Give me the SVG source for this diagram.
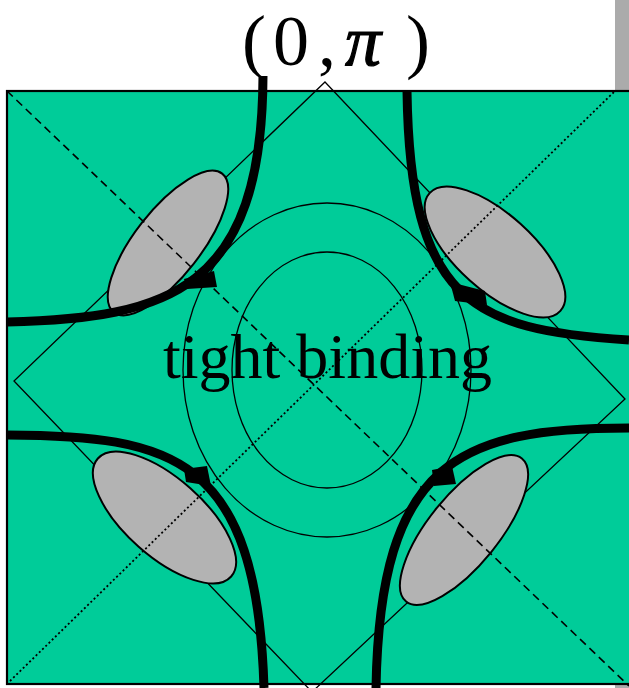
<svg xmlns="http://www.w3.org/2000/svg" width="629" height="688" viewBox="0 0 629 688">
<defs>
<style>
.thin{fill:none;stroke:#000;stroke-width:1.3}
.pocket{fill:#B3B3B3;stroke:#000;stroke-width:2}
.fs{fill:none;stroke:#000;stroke-width:9}
.tab{fill:#000}
.lbl{font-family:"Liberation Serif","Times New Roman",serif;fill:#000}
</style>
</defs>
<rect x="0" y="0" width="629" height="688" fill="#fff"/>
<rect x="615" y="0" width="14" height="91" fill="#ABABAB"/>
<rect x="615" y="684" width="14" height="4" fill="#ABABAB"/>
<g id="zone">
<rect x="7" y="91" width="630" height="593" fill="#00CC99" stroke="#000" stroke-width="2.2"/>
</g>
<g id="diamond">
<polygon class="thin" points="325,82 625,399 312,692 14,381"/>
</g>
<g id="contours">
<ellipse class="thin" cx="327" cy="370" rx="144" ry="167"/>
<ellipse class="thin" cx="327" cy="370" rx="95" ry="118"/>
</g>
<g id="pockets">
<ellipse id="pocket-tl" class="pocket" cx="168" cy="243" rx="88" ry="33" transform="rotate(-52 168 243)"/>
<ellipse id="pocket-tr" class="pocket" cx="495" cy="252" rx="88" ry="38" transform="rotate(42 495 252)"/>
<ellipse id="pocket-bl" class="pocket" cx="164.5" cy="517.5" rx="89" ry="39" transform="rotate(41.5 164.5 517.5)"/>
<ellipse id="pocket-br" class="pocket" cx="464" cy="530" rx="92" ry="35" transform="rotate(-51 464 530)"/>
</g>
<g id="diagonals">
<line x1="7" y1="91" x2="629" y2="686" stroke="#000" stroke-width="1.6" stroke-dasharray="8,5"/>
<line x1="10" y1="681" x2="615" y2="91" stroke="#000" stroke-width="1.8" stroke-dasharray="2,2.5"/>
</g>
<g id="fermi-surface">
<path class="fs" d="M263,76 C262,290 170,318 7,322"/>
<polygon class="tab" points="184,279 214,271 217,287 187,289"/>
<path class="fs" d="M407,91 C410,300 470,330 629,340"/>
<polygon class="tab" points="450,282 485,291 487,305 455,301"/>
<path class="fs" d="M7,435 C172,436 257,455 264,688"/>
<polygon class="tab" points="184,469 207,466 211,486 186,482"/>
<path class="fs" d="M629,428 C460,428 380,460 376,688"/>
<polygon class="tab" points="432,470 452,466 456,484 434,486"/>
</g>
<g id="label-top">
<text class="lbl" y="65" font-size="72"><tspan x="242">(</tspan><tspan x="273">0</tspan><tspan x="318">,</tspan><tspan x="345" font-style="italic" stroke="#000" stroke-width="1.2">π</tspan><tspan x="406">)</tspan></text>
</g>
<g id="label-center">
<text class="lbl" x="163" y="378" font-size="64">tight binding</text>
</g>
</svg>
